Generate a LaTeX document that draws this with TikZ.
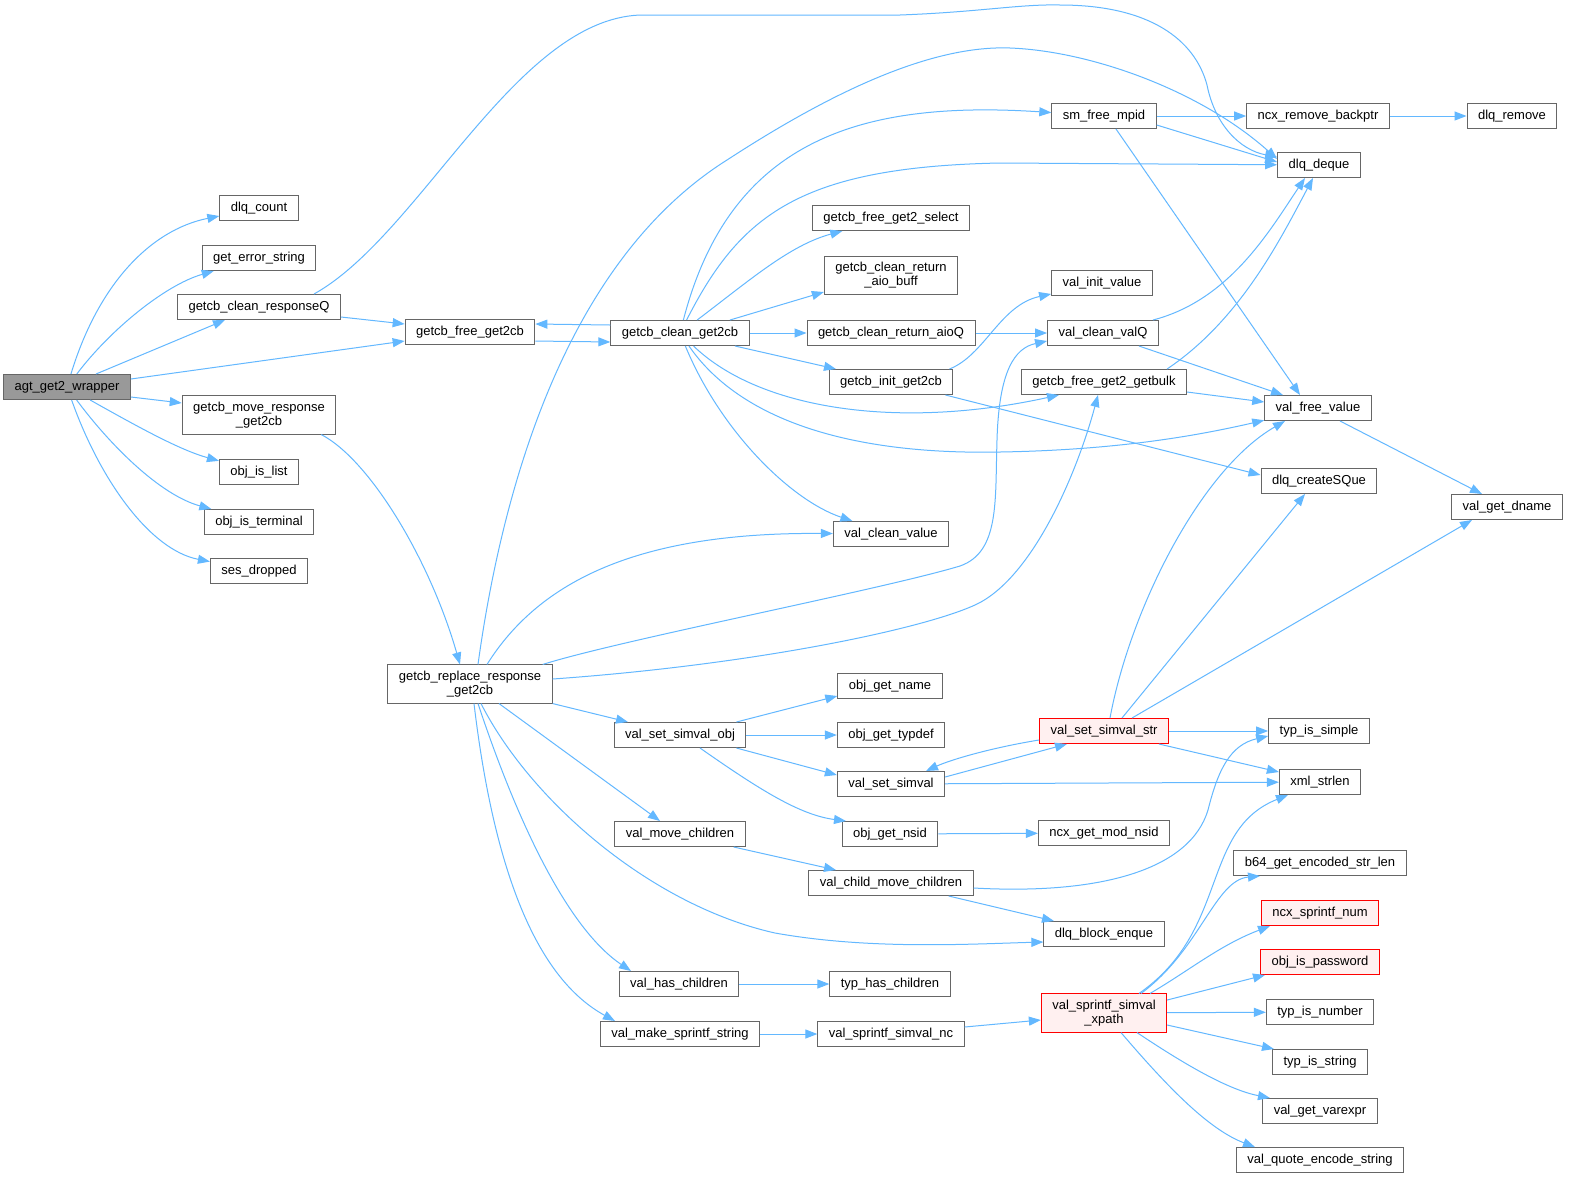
\documentclass[tikz,border=0pt]{standalone}
\usepackage{fontspec}
\setmainfont{Liberation Sans}
\usetikzlibrary{arrows.meta}
\definecolor{edgeblue}{HTML}{63B8FF}
\definecolor{boxgray}{HTML}{666666}
\definecolor{rootgray}{HTML}{999999}
\definecolor{hotfill}{HTML}{FFF0F0}
\begin{document}
\begin{tikzpicture}[x=1pt,y=-1pt,
    fn/.style={draw=boxgray,fill=white,line width=1pt,font=\fontsize{13}{14}\selectfont,inner xsep=11pt,inner ysep=6pt,minimum height=25pt,align=center},
    root/.style={fn,fill=rootgray},
    hot/.style={fn,draw=red,fill=hotfill},
    call/.style={draw=edgeblue,line width=1pt,-{Triangle[length=12pt,width=9pt]}}]
\path[use as bounding box,fill=white] (0,0) rectangle (1569,1179);

\node[root] (agt) at (67,387) {agt\_get2\_wrapper};
\node[fn] (dlqc) at (259,208) {dlq\_count};
\node[fn] (ges) at (259,258) {get\_error\_string};
\node[fn] (gcrq) at (259,307) {getcb\_clean\_responseQ};
\node[fn] (gfg) at (470,332) {getcb\_free\_get2cb};
\node[fn] (gmr) at (259,415) {getcb\_move\_response\\\_get2cb};
\node[fn] (oil) at (259,472) {obj\_is\_list};
\node[fn] (oit) at (259,522) {obj\_is\_terminal};
\node[fn] (ses) at (259,571) {ses\_dropped};
\node[fn] (gcg) at (680,333) {getcb\_clean\_get2cb};
\node[fn] (sfm) at (1104,116) {sm\_free\_mpid};
\node[fn] (nrb) at (1318,116) {ncx\_remove\_backptr};
\node[fn] (dlqr) at (1512,116) {dlq\_remove};
\node[fn] (dlqd) at (1319,165) {dlq\_deque};
\node[fn] (gfgs) at (891,218) {getcb\_free\_get2\_select};
\node[fn] (gcrab) at (891,275) {getcb\_clean\_return\\\_aio\_buff};
\node[fn] (viv) at (1102,283) {val\_init\_value};
\node[fn] (gcra) at (891,333) {getcb\_clean\_return\_aioQ};
\node[fn] (vcvq) at (1103,333) {val\_clean\_valQ};
\node[fn] (gig) at (891,382) {getcb\_init\_get2cb};
\node[fn] (gfgb) at (1104,382) {getcb\_free\_get2\_getbulk};
\node[fn] (vfv) at (1318,408) {val\_free\_value};
\node[fn] (dcsq) at (1319,481) {dlq\_createSQue};
\node[fn] (vgd) at (1507,507) {val\_get\_dname};
\node[fn] (vcv) at (891,534) {val\_clean\_value};
\node[fn] (grp) at (470,684) {getcb\_replace\_response\\\_get2cb};
\node[fn] (ogn) at (890,686) {obj\_get\_name};
\node[fn] (vsso) at (680,735) {val\_set\_simval\_obj};
\node[fn] (ogt) at (891,735) {obj\_get\_typdef};
\node[hot] (vsss) at (1104,731) {val\_set\_simval\_str};
\node[fn] (tis) at (1319,731) {typ\_is\_simple};
\node[fn] (vss) at (891,784) {val\_set\_simval};
\node[fn] (xsl) at (1320,782) {xml\_strlen};
\node[fn] (vmc) at (680,834) {val\_move\_children};
\node[fn] (ogns) at (890,834) {obj\_get\_nsid};
\node[fn] (ngmn) at (1104,833) {ncx\_get\_mod\_nsid};
\node[fn] (b64) at (1320,863) {b64\_get\_encoded\_str\_len};
\node[fn] (vcmc) at (891,883) {val\_child\_move\_children};
\node[hot] (nsn) at (1320,913) {ncx\_sprintf\_num};
\node[fn] (dbe) at (1104,934) {dlq\_block\_enque};
\node[hot] (oip) at (1320,962) {obj\_is\_password};
\node[fn] (vhc) at (679,984) {val\_has\_children};
\node[fn] (thc) at (890,984) {typ\_has\_children};
\node[hot] (vssx) at (1104,1013) {val\_sprintf\_simval\\\_xpath};
\node[fn] (tin) at (1320,1012) {typ\_is\_number};
\node[fn] (vmss) at (680,1034) {val\_make\_sprintf\_string};
\node[fn] (vssn) at (891,1034) {val\_sprintf\_simval\_nc};
\node[fn] (tist) at (1320,1062) {typ\_is\_string};
\node[fn] (vgv) at (1320,1111) {val\_get\_varexpr};
\node[fn] (vqes) at (1320,1160) {val\_quote\_encode\_string};

\draw[call] (agt) .. controls (98,285) and (150,230) .. (dlqc);
\draw[call] (agt) .. controls (110,330) and (165,285) .. (ges);
\draw[call] ([xshift=29pt]agt.north) -- ([xshift=-34pt]gcrq.south);
\draw[call] ([yshift=8pt]agt.east) -- ([yshift=-9pt]gfg.west);
\draw[call] ([yshift=-10pt]agt.east) -- ([yshift=12pt]gmr.west);
\draw[call] (agt) .. controls (140,428) and (180,450) .. (oil);
\draw[call] (agt) .. controls (110,445) and (160,495) .. (oit);
\draw[call] (agt) .. controls (100,480) and (150,550) .. (ses);
\draw[call] ([yshift=-10pt]gcrq.east) -- ([yshift=8pt]gfg.west);
\draw[call] ([xshift=55pt]gcrq.north) .. controls (420,235) and (515,20) .. (640,15) -- (900,15) .. controls (980,12) and (1020,4) .. (1060,5) .. controls (1150,5) and (1195,40) .. (1207,85) .. controls (1215,125) and (1240,150) .. ([yshift=8pt]dlqd.west);
\draw[call] ([yshift=-9pt]gfg.east) -- ([yshift=-9pt]gcg.west);
\draw[call] ([yshift=8pt]gcg.west) -- ([yshift=8pt]gfg.east);
\draw[call] (gcg) .. controls (730,140) and (860,100) .. (sfm);
\draw[call] (gcg) .. controls (740,215) and (800,167) .. (1000,163) -- (dlqd);
\draw[call] (gcg) .. controls (750,280) and (790,245) .. (gfgs);
\draw[call] ([xshift=50pt]gcg.north) -- ([yshift=-17pt]gcrab.west);
\draw[call] (gcg) -- (gcra);
\draw[call] ([xshift=55pt]gcg.south) -- ([xshift=-55pt]gig.north);
\draw[call] (gcg) .. controls (760,410) and (900,430) .. ([xshift=-45pt]gfgb.south);
\draw[call] (gcg) .. controls (740,420) and (850,455) .. (1000,452) .. controls (1120,450) and (1200,435) .. (vfv);
\draw[call] (gcg) .. controls (720,430) and (790,500) .. (vcv);
\draw[call] (gcra) -- (vcvq);
\draw[call] ([xshift=-4pt]gig.north east) .. controls (985,355) and (1000,305) .. (viv);
\draw[call] ([xshift=-8pt]gig.south east) -- ([yshift=6pt]dcsq.west);
\draw[call] (vcvq) .. controls (1230,300) and (1270,230) .. ([xshift=-14pt]dlqd.south);
\draw[call] ([xshift=-20pt]vcvq.south east) -- ([xshift=-35pt]vfv.north);
\draw[call] ([xshift=-20pt]gfgb.north east) .. controls (1240,320) and (1280,240) .. ([xshift=-6pt]dlqd.south);
\draw[call] ([yshift=-10pt]gfgb.east) -- ([yshift=6pt]vfv.west);
\draw[call] (sfm) -- (nrb);
\draw[call] ([yshift=-9pt]sfm.east) -- ([yshift=3pt]dlqd.west);
\draw[call] ([xshift=12pt]sfm.south) -- ([xshift=-18pt]vfv.north);
\draw[call] (nrb) -- (dlqr);
\draw[call] ([xshift=22pt]vfv.south) -- ([xshift=-25pt]vgd.north);
\draw[call] ([xshift=-15pt]gmr.south east) .. controls (370,460) and (430,560) .. ([xshift=-10pt]grp.north);
\draw[call] ([xshift=8pt]grp.north) .. controls (502,490) and (565,262) .. (727,160) .. controls (830,93) and (930,45) .. (1010,48) .. controls (1090,51) and (1200,90) .. ([yshift=6pt]dlqd.west);
\draw[call] ([xshift=17pt]grp.north) .. controls (540,580) and (640,532) .. (vcv);
\draw[call] ([xshift=-10pt]grp.north east) .. controls (620,640) and (880,590) .. (960,566) .. controls (1000,552) and (995,500) .. (997,440) .. controls (999,370) and (1015,348) .. ([yshift=-8pt]vcvq.west);
\draw[call] ([yshift=5pt]grp.east) .. controls (750,665) and (920,630) .. (975,605) .. controls (1030,580) and (1075,480) .. ([xshift=-6pt]gfgb.south);
\draw[call] (grp.south east) -- ([xshift=-52pt]vsso.north);
\draw[call] ([xshift=29pt]grp.south) -- ([xshift=-20pt]vmc.north);
\draw[call] ([xshift=11pt]grp.south) .. controls (530,800) and (650,905) .. (775,933) .. controls (870,950) and (970,944) .. ([yshift=-8pt]dbe.west);
\draw[call] ([xshift=8pt]grp.south) .. controls (520,830) and (570,930) .. ([xshift=-48pt]vhc.north);
\draw[call] ([xshift=4pt]grp.south) .. controls (495,880) and (540,980) .. ([xshift=-65pt]vmss.north);
\draw[call] ([xshift=-10pt]vsso.north east) -- ([yshift=-10pt]ogn.west);
\draw[call] (vsso) -- (ogt);
\draw[call] ([xshift=-10pt]vsso.south east) -- ([yshift=9pt]vss.west);
\draw[call] ([xshift=20pt]vsso.south) .. controls (760,790) and (800,815) .. ([xshift=-44pt]ogns.north);
\draw[call] ([yshift=7pt]vss.east) -- ([xshift=-37pt]vsss.south);
\draw[call] ([yshift=-9pt]vsss.west) .. controls (990,748) and (950,760) .. ([xshift=35pt]vss.north);
\draw[call] (vss) -- (xsl);
\draw[call] ([xshift=-12pt]vmc.south east) -- ([xshift=-55pt]vcmc.north);
\draw[call] (ogns) -- (ngmn);
\draw[call] ([yshift=-5pt]vcmc.east) .. controls (1100,895) and (1190,870) .. (1208,810) .. controls (1218,770) and (1230,745) .. ([yshift=-5pt]tis.west);
\draw[call] ([xshift=-25pt]vcmc.south east) -- ([xshift=-50pt]dbe.north);
\draw[call] (vhc) -- (thc);
\draw[call] (vmss) -- (vssn);
\draw[call] ([yshift=7pt]vssn.east) -- ([yshift=-7pt]vssx.west);
\draw[call] ([xshift=6pt]vsss.north) .. controls (1130,610) and (1200,470) .. ([xshift=-33pt]vfv.south);
\draw[call] ([xshift=18pt]vsss.north) -- ([xshift=-14pt]dcsq.south);
\draw[call] ([xshift=28pt]vsss.north) -- ([xshift=-35pt]vgd.south);
\draw[call] (vsss) -- (tis);
\draw[call] ([xshift=-10pt]vsss.south east) -- ([yshift=10pt]xsl.west);
\draw[call] ([xshift=35pt]vssx.north) .. controls (1230,930) and (1200,830) .. ([xshift=-32pt]xsl.south);
\draw[call] ([xshift=37pt]vssx.north) .. controls (1200,950) and (1215,880) .. ([xshift=-60pt]b64.south);
\draw[call] ([xshift=46pt]vssx.north) .. controls (1190,970) and (1220,945) .. ([xshift=-50pt]nsn.south);
\draw[call] ([yshift=13pt]vssx.east) -- ([xshift=-55pt]oip.south);
\draw[call] (vssx) -- (tin);
\draw[call] ([yshift=-12pt]vssx.east) -- ([xshift=-46pt]tist.north);
\draw[call] ([xshift=33pt]vssx.south) .. controls (1190,1068) and (1230,1090) .. ([xshift=-50pt]vgv.north);
\draw[call] ([xshift=17pt]vssx.south) .. controls (1170,1090) and (1210,1130) .. ([xshift=-65pt]vqes.north);
\end{tikzpicture}
\end{document}
